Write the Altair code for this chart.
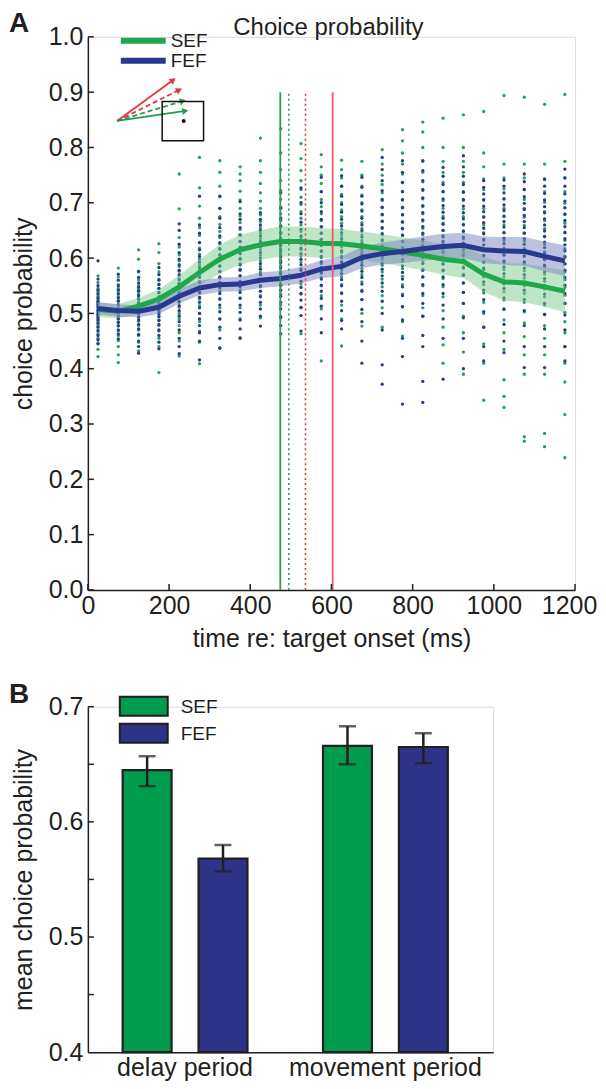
import altair as alt
import pandas as pd

# ---------------- Panel A data ----------------
BINS = [25, 75, 125, 175, 225, 275, 325, 375, 425, 475, 525, 575,
        625, 675, 725, 775, 825, 875, 925, 975, 1025, 1075, 1125, 1175]
SEF_MEAN = [0.507, 0.504, 0.513, 0.526, 0.548, 0.574, 0.598, 0.615, 0.624, 0.630, 0.630, 0.627,
            0.626, 0.622, 0.617, 0.611, 0.605, 0.598, 0.594, 0.571, 0.557, 0.555, 0.548, 0.540]
FEF_MEAN = [0.509, 0.505, 0.504, 0.511, 0.531, 0.546, 0.552, 0.553, 0.560, 0.563, 0.569, 0.580,
            0.585, 0.601, 0.608, 0.612, 0.617, 0.621, 0.623, 0.615, 0.613, 0.612, 0.603, 0.595]
SEF_SEM = [0.013, 0.013, 0.015, 0.017, 0.021, 0.024, 0.026, 0.027, 0.027, 0.027, 0.027, 0.027,
           0.026, 0.026, 0.026, 0.026, 0.027, 0.028, 0.030, 0.032, 0.034, 0.035, 0.036, 0.038]
FEF_SEM = [0.011, 0.011, 0.011, 0.012, 0.013, 0.013, 0.013, 0.013, 0.014, 0.014, 0.015, 0.016,
           0.018, 0.019, 0.020, 0.021, 0.022, 0.023, 0.023, 0.024, 0.025, 0.026, 0.027, 0.028]

SEF_DOTS = [
    [0.568, 0.556, 0.545, 0.538, 0.531, 0.526, 0.52, 0.515, 0.511, 0.505, 0.5, 0.496, 0.49, 0.485, 0.478, 0.47, 0.463, 0.455, 0.446, 0.435, 0.422],
    [0.582, 0.566, 0.552, 0.545, 0.537, 0.53, 0.523, 0.515, 0.509, 0.502, 0.497, 0.491, 0.484, 0.477, 0.469, 0.46, 0.451, 0.44, 0.425, 0.411],
    [0.615, 0.598, 0.575, 0.561, 0.55, 0.542, 0.535, 0.527, 0.52, 0.514, 0.507, 0.5, 0.493, 0.486, 0.478, 0.47, 0.46, 0.448, 0.432],
    [0.626, 0.61, 0.59, 0.575, 0.562, 0.553, 0.545, 0.537, 0.53, 0.523, 0.517, 0.51, 0.503, 0.496, 0.488, 0.478, 0.468, 0.455, 0.44, 0.393],
    [0.752, 0.689, 0.637, 0.62, 0.606, 0.595, 0.585, 0.576, 0.568, 0.56, 0.552, 0.545, 0.537, 0.53, 0.52, 0.511, 0.5, 0.49, 0.478, 0.465, 0.45, 0.423],
    [0.782, 0.727, 0.694, 0.672, 0.655, 0.641, 0.628, 0.618, 0.607, 0.598, 0.588, 0.578, 0.569, 0.558, 0.548, 0.537, 0.526, 0.514, 0.5, 0.485, 0.468, 0.448, 0.409],
    [0.776, 0.755, 0.73, 0.711, 0.69, 0.675, 0.661, 0.648, 0.637, 0.626, 0.616, 0.605, 0.595, 0.585, 0.575, 0.564, 0.553, 0.54, 0.526, 0.51, 0.49, 0.47, 0.438],
    [0.765, 0.752, 0.74, 0.721, 0.705, 0.69, 0.676, 0.664, 0.652, 0.641, 0.63, 0.62, 0.61, 0.6, 0.59, 0.58, 0.568, 0.556, 0.542, 0.528, 0.51, 0.49, 0.456],
    [0.817, 0.776, 0.755, 0.735, 0.718, 0.703, 0.69, 0.678, 0.666, 0.655, 0.645, 0.635, 0.625, 0.615, 0.605, 0.595, 0.585, 0.574, 0.562, 0.548, 0.532, 0.515, 0.492],
    [0.834, 0.79, 0.76, 0.74, 0.722, 0.706, 0.692, 0.68, 0.668, 0.657, 0.646, 0.636, 0.626, 0.616, 0.606, 0.596, 0.586, 0.575, 0.563, 0.55, 0.535, 0.515, 0.492],
    [0.807, 0.78, 0.758, 0.74, 0.724, 0.71, 0.697, 0.684, 0.672, 0.66, 0.648, 0.637, 0.626, 0.615, 0.604, 0.593, 0.581, 0.568, 0.553, 0.535, 0.51, 0.463],
    [0.787, 0.765, 0.75, 0.735, 0.72, 0.706, 0.693, 0.68, 0.668, 0.656, 0.645, 0.634, 0.623, 0.612, 0.601, 0.59, 0.578, 0.565, 0.55, 0.532, 0.508, 0.414],
    [0.777, 0.76, 0.745, 0.73, 0.715, 0.7, 0.687, 0.675, 0.663, 0.652, 0.641, 0.63, 0.62, 0.61, 0.6, 0.589, 0.578, 0.566, 0.552, 0.536, 0.515, 0.49, 0.441],
    [0.775, 0.75, 0.73, 0.714, 0.7, 0.687, 0.675, 0.664, 0.653, 0.642, 0.632, 0.622, 0.612, 0.602, 0.592, 0.581, 0.57, 0.557, 0.542, 0.525, 0.5, 0.477],
    [0.796, 0.77, 0.75, 0.733, 0.718, 0.704, 0.691, 0.678, 0.666, 0.654, 0.642, 0.631, 0.62, 0.609, 0.598, 0.587, 0.575, 0.562, 0.548, 0.532, 0.51, 0.475],
    [0.832, 0.812, 0.79, 0.77, 0.752, 0.736, 0.72, 0.706, 0.692, 0.679, 0.666, 0.654, 0.642, 0.63, 0.618, 0.606, 0.594, 0.581, 0.567, 0.552, 0.535, 0.512, 0.485, 0.459],
    [0.846, 0.828, 0.8, 0.775, 0.755, 0.738, 0.722, 0.707, 0.693, 0.68, 0.667, 0.654, 0.642, 0.63, 0.618, 0.606, 0.593, 0.58, 0.566, 0.55, 0.532, 0.51, 0.495],
    [0.853, 0.8, 0.775, 0.755, 0.737, 0.72, 0.704, 0.69, 0.676, 0.663, 0.65, 0.638, 0.626, 0.614, 0.602, 0.59, 0.577, 0.563, 0.548, 0.53, 0.505, 0.475, 0.443, 0.41],
    [0.859, 0.8, 0.775, 0.755, 0.737, 0.72, 0.704, 0.689, 0.675, 0.661, 0.648, 0.635, 0.622, 0.61, 0.597, 0.584, 0.57, 0.555, 0.538, 0.518, 0.495, 0.465, 0.43, 0.39],
    [0.865, 0.79, 0.765, 0.743, 0.724, 0.706, 0.69, 0.675, 0.66, 0.646, 0.632, 0.618, 0.605, 0.592, 0.579, 0.566, 0.552, 0.537, 0.52, 0.5, 0.475, 0.445, 0.41, 0.343],
    [0.894, 0.77, 0.745, 0.725, 0.707, 0.69, 0.675, 0.66, 0.646, 0.632, 0.618, 0.605, 0.592, 0.579, 0.566, 0.553, 0.539, 0.524, 0.507, 0.488, 0.465, 0.435, 0.38, 0.35, 0.33],
    [0.891, 0.77, 0.745, 0.724, 0.706, 0.69, 0.674, 0.659, 0.645, 0.631, 0.617, 0.603, 0.59, 0.577, 0.564, 0.55, 0.536, 0.52, 0.503, 0.483, 0.458, 0.425, 0.39, 0.277, 0.269],
    [0.878, 0.77, 0.742, 0.72, 0.701, 0.684, 0.668, 0.653, 0.639, 0.625, 0.611, 0.597, 0.584, 0.571, 0.558, 0.544, 0.53, 0.515, 0.498, 0.478, 0.455, 0.425, 0.39, 0.283, 0.259],
    [0.896, 0.775, 0.745, 0.72, 0.699, 0.68, 0.663, 0.647, 0.632, 0.617, 0.603, 0.589, 0.575, 0.561, 0.547, 0.533, 0.518, 0.502, 0.485, 0.465, 0.44, 0.41, 0.376, 0.317, 0.239],
]
FEF_DOTS = [
    [0.595, 0.562, 0.55, 0.542, 0.535, 0.528, 0.522, 0.517, 0.512, 0.507, 0.503, 0.498, 0.493, 0.488, 0.482, 0.475, 0.468, 0.46, 0.452, 0.445],
    [0.571, 0.56, 0.55, 0.542, 0.535, 0.528, 0.522, 0.516, 0.51, 0.505, 0.5, 0.495, 0.49, 0.484, 0.478, 0.47, 0.463, 0.454],
    [0.576, 0.565, 0.555, 0.547, 0.54, 0.532, 0.525, 0.518, 0.512, 0.506, 0.5, 0.494, 0.488, 0.48, 0.472, 0.462, 0.45, 0.44, 0.428],
    [0.583, 0.57, 0.56, 0.552, 0.545, 0.538, 0.53, 0.524, 0.518, 0.512, 0.506, 0.5, 0.494, 0.487, 0.48, 0.47, 0.46, 0.448, 0.436],
    [0.662, 0.65, 0.625, 0.61, 0.598, 0.588, 0.578, 0.57, 0.562, 0.554, 0.546, 0.538, 0.53, 0.522, 0.514, 0.505, 0.495, 0.485, 0.47, 0.455, 0.44, 0.427],
    [0.712, 0.66, 0.645, 0.628, 0.615, 0.603, 0.593, 0.583, 0.574, 0.565, 0.556, 0.547, 0.538, 0.529, 0.52, 0.51, 0.5, 0.49, 0.478, 0.465, 0.45, 0.416],
    [0.712, 0.69, 0.672, 0.655, 0.64, 0.628, 0.617, 0.606, 0.596, 0.586, 0.576, 0.566, 0.556, 0.546, 0.536, 0.526, 0.515, 0.503, 0.49, 0.475, 0.455, 0.437],
    [0.702, 0.68, 0.67, 0.655, 0.642, 0.63, 0.619, 0.608, 0.598, 0.588, 0.578, 0.568, 0.558, 0.548, 0.538, 0.527, 0.515, 0.502, 0.488, 0.472, 0.455],
    [0.682, 0.67, 0.66, 0.65, 0.64, 0.63, 0.62, 0.61, 0.6, 0.59, 0.58, 0.57, 0.56, 0.55, 0.54, 0.53, 0.52, 0.508, 0.495, 0.477],
    [0.718, 0.69, 0.672, 0.658, 0.645, 0.634, 0.623, 0.612, 0.602, 0.592, 0.582, 0.572, 0.562, 0.552, 0.542, 0.531, 0.52, 0.508, 0.494, 0.478, 0.463],
    [0.727, 0.7, 0.68, 0.665, 0.652, 0.64, 0.629, 0.618, 0.608, 0.598, 0.588, 0.578, 0.568, 0.558, 0.547, 0.536, 0.524, 0.511, 0.496, 0.468],
    [0.746, 0.72, 0.7, 0.684, 0.67, 0.657, 0.645, 0.634, 0.623, 0.613, 0.603, 0.593, 0.583, 0.573, 0.562, 0.551, 0.54, 0.527, 0.513, 0.49, 0.465],
    [0.749, 0.73, 0.712, 0.697, 0.683, 0.67, 0.658, 0.646, 0.635, 0.624, 0.613, 0.603, 0.593, 0.583, 0.572, 0.561, 0.55, 0.537, 0.522, 0.505, 0.487, 0.472],
    [0.746, 0.728, 0.712, 0.698, 0.685, 0.672, 0.66, 0.649, 0.638, 0.627, 0.617, 0.607, 0.597, 0.587, 0.576, 0.565, 0.553, 0.54, 0.525, 0.507, 0.485, 0.45, 0.41],
    [0.782, 0.76, 0.74, 0.722, 0.706, 0.692, 0.679, 0.667, 0.655, 0.644, 0.633, 0.622, 0.612, 0.602, 0.591, 0.58, 0.568, 0.555, 0.54, 0.522, 0.5, 0.47, 0.407, 0.372],
    [0.776, 0.755, 0.737, 0.72, 0.705, 0.691, 0.678, 0.665, 0.653, 0.641, 0.63, 0.619, 0.608, 0.597, 0.586, 0.574, 0.562, 0.548, 0.532, 0.512, 0.488, 0.455, 0.422, 0.336],
    [0.776, 0.758, 0.74, 0.724, 0.709, 0.695, 0.682, 0.669, 0.657, 0.645, 0.634, 0.623, 0.612, 0.601, 0.59, 0.578, 0.566, 0.552, 0.536, 0.518, 0.495, 0.46, 0.44, 0.377, 0.339],
    [0.764, 0.748, 0.733, 0.72, 0.707, 0.695, 0.683, 0.672, 0.661, 0.65, 0.64, 0.63, 0.62, 0.61, 0.6, 0.589, 0.578, 0.566, 0.552, 0.536, 0.515, 0.49, 0.455, 0.381],
    [0.785, 0.765, 0.748, 0.733, 0.719, 0.706, 0.694, 0.682, 0.671, 0.66, 0.649, 0.638, 0.627, 0.616, 0.605, 0.594, 0.582, 0.569, 0.555, 0.538, 0.518, 0.492, 0.455, 0.4],
    [0.74, 0.728, 0.716, 0.705, 0.694, 0.684, 0.674, 0.664, 0.654, 0.644, 0.634, 0.624, 0.614, 0.604, 0.593, 0.582, 0.57, 0.557, 0.542, 0.525, 0.503, 0.475, 0.44, 0.414],
    [0.741, 0.73, 0.718, 0.707, 0.696, 0.686, 0.676, 0.666, 0.656, 0.646, 0.636, 0.626, 0.616, 0.606, 0.595, 0.584, 0.572, 0.559, 0.545, 0.528, 0.508, 0.48, 0.45, 0.429],
    [0.752, 0.738, 0.724, 0.711, 0.699, 0.688, 0.677, 0.666, 0.655, 0.645, 0.635, 0.625, 0.615, 0.604, 0.593, 0.582, 0.57, 0.557, 0.542, 0.525, 0.505, 0.478, 0.44, 0.402],
    [0.743, 0.73, 0.717, 0.705, 0.693, 0.682, 0.671, 0.66, 0.649, 0.639, 0.629, 0.619, 0.609, 0.598, 0.587, 0.575, 0.563, 0.55, 0.535, 0.518, 0.498, 0.472, 0.44, 0.402],
    [0.761, 0.745, 0.73, 0.716, 0.703, 0.691, 0.679, 0.668, 0.657, 0.646, 0.635, 0.624, 0.613, 0.602, 0.59, 0.578, 0.565, 0.551, 0.536, 0.518, 0.497, 0.47, 0.44, 0.414],
]

# event markers (ms)
VLINE_T = [474, 603]
VLINE_COLORS = ["#2f9a5c", "#e06262"]
VLINE_DOT_T = [495, 536]
VLINE_DOT_COLORS = ["#2f9a5c", "#e0393e"]
VLINE_TOP = 0.9

# inset icon (in data units)
ARROW_T0 = 72
ARROW_P0 = 0.848
ARROW_T1 = [210, 225, 234, 240]
ARROW_P1 = [0.922, 0.904, 0.884, 0.866]
ARROW_COLORS = ["#e0393e", "#e0393e", "#1fa050", "#1fa050"]
ARROW_DASHED = [False, True, True, False]
ARROW_ANGLE = [324, 333.6, 343, 351.7]
BOX_T = [183, 285]
BOX_P = [0.812, 0.883]
FIX_T = 236
FIX_P = 0.848

X_TICKS_A = [0, 200, 400, 600, 800, 1000, 1200]
Y_TICKS_A = [0.0, 0.1, 0.2, 0.3, 0.4, 0.5, 0.6, 0.7, 0.8, 0.9, 1.0]

# ---------------- Panel B data ----------------
PERIODS = ["delay period", "movement period"]
AREAS = ["SEF", "FEF"]
B_PERIOD = ["delay period", "delay period", "movement period", "movement period"]
B_AREA = ["SEF", "FEF", "SEF", "FEF"]
B_MEAN = [0.645, 0.568, 0.666, 0.665]
B_LO = [0.631, 0.557, 0.650, 0.651]
B_HI = [0.657, 0.580, 0.683, 0.677]
Y_TICKS_B = [0.45, 0.5, 0.55, 0.6, 0.65, 0.7]
Y_LABELS_B = [0.4, 0.5, 0.6, 0.7]

# ---------------- styles ----------------
DARK = "#231f20"
GREEN_LINE = "#1fa84b"
BLUE_LINE = "#2a3990"
GREEN_BAND = "#7fcc8f"
BLUE_BAND = "#7c83c0"
GREEN_DOT = "#22a45a"
BLUE_DOT = "#2d3b8e"
GREEN_BAR = "#009b4f"
BLUE_BAR = "#2e3388"
FONT = "Liberation Sans"
LABEL_FS = 25
TITLE_FS = 25

WA, HA = 488, 554
WB, HB = 406, 346

# ---------------- Panel A ----------------
xsA = alt.Scale(domain=[0, 1200], nice=False, zero=False)
ysA = alt.Scale(domain=[0, 1], nice=False, zero=False)
axXA = alt.Axis(values=X_TICKS_A, format="d", ticks=False, grid=False, labelFlush=False,
                labelOverlap=False, labelFontSize=LABEL_FS, labelPadding=4, labelColor=DARK,
                labelOffset={"condition": {"test": "datum.value === 1200", "value": -6}, "value": 0},
                domainColor=DARK, domainWidth=1.5, title="time re: target onset (ms)",
                titleFontSize=TITLE_FS, titleFontWeight="normal", titleColor=DARK, titlePadding=8)
axYA = alt.Axis(values=Y_TICKS_A, format=".1f", ticks=False, grid=False, labelFontSize=LABEL_FS,
                labelPadding=5, labelColor=DARK, domainColor=DARK, domainWidth=1.5,
                title="choice probability", titleFontSize=TITLE_FS, titleFontWeight="normal",
                titleColor=DARK, titlePadding=12)


def XA(field):
    return alt.X(field, type="quantitative", scale=xsA, axis=axXA)


def YA(field):
    return alt.Y(field, type="quantitative", scale=ysA, axis=axYA)


dot_rows = []
for area, dots in (("SEF", SEF_DOTS), ("FEF", FEF_DOTS)):
    for t, vals in zip(BINS, dots):
        for v in vals:
            dot_rows.append({"t": t, "p": v, "area": area})
dots_df = pd.DataFrame(dot_rows)

layersA = []
for area, col in (("SEF", GREEN_DOT), ("FEF", BLUE_DOT)):
    layersA.append(
        alt.Chart(dots_df[dots_df.area == area]).mark_circle(size=11, opacity=1, color=col)
        .encode(x=XA("t"), y=YA("p"))
    )

for mean, sem, col in ((SEF_MEAN, SEF_SEM, GREEN_BAND), (FEF_MEAN, FEF_SEM, BLUE_BAND)):
    bdf = pd.DataFrame({"t": BINS, "lo": [m - s for m, s in zip(mean, sem)],
                        "hi": [m + s for m, s in zip(mean, sem)]})
    layersA.append(alt.Chart(bdf).mark_area(color=col, opacity=0.5)
                   .encode(x=XA("t"), y=YA("lo"), y2="hi"))

for mean, col in ((SEF_MEAN, GREEN_LINE), (FEF_MEAN, BLUE_LINE)):
    ldf = pd.DataFrame({"t": BINS, "p": mean})
    layersA.append(alt.Chart(ldf).mark_line(color=col, strokeWidth=5, strokeJoin="round")
                   .encode(x=XA("t"), y=YA("p")))

vdf = pd.DataFrame({"t": VLINE_T, "p0": [0, 0], "p1": [VLINE_TOP] * 2, "c": VLINE_COLORS})
layersA.append(alt.Chart(vdf).mark_rule(strokeWidth=1.8)
               .encode(x=XA("t"), y=YA("p0"), y2="p1", color=alt.Color("c:N", scale=None)))
vddf = pd.DataFrame({"t": VLINE_DOT_T, "p0": [0, 0], "p1": [VLINE_TOP] * 2, "c": VLINE_DOT_COLORS})
layersA.append(alt.Chart(vddf).mark_rule(strokeWidth=1.6, strokeDash=[2, 3])
               .encode(x=XA("t"), y=YA("p0"), y2="p1", color=alt.Color("c:N", scale=None)))

# inset icon
adf = pd.DataFrame({"t0": [ARROW_T0] * 4, "p0": [ARROW_P0] * 4, "t": ARROW_T1, "p": ARROW_P1,
                    "c": ARROW_COLORS, "dash": ARROW_DASHED, "ang": ARROW_ANGLE})
layersA.append(alt.Chart(adf[~adf.dash]).mark_rule(strokeWidth=1.8)
               .encode(x=XA("t0"), y=YA("p0"), x2="t", y2="p", color=alt.Color("c:N", scale=None)))
layersA.append(alt.Chart(adf[adf.dash]).mark_rule(strokeWidth=1.8, strokeDash=[5, 3])
               .encode(x=XA("t0"), y=YA("p0"), x2="t", y2="p", color=alt.Color("c:N", scale=None)))
layersA.append(alt.Chart(adf).mark_point(shape="triangle-right", filled=True, size=50, opacity=1)
               .encode(x=XA("t"), y=YA("p"), angle=alt.Angle("ang:Q", scale=None),
                       color=alt.Color("c:N", scale=None)))
boxdf = pd.DataFrame({"t0": [BOX_T[0]], "t1": [BOX_T[1]], "p0": [BOX_P[0]], "p1": [BOX_P[1]]})
layersA.append(alt.Chart(boxdf).mark_rect(fillOpacity=0, stroke="#111", strokeWidth=1.5)
               .encode(x=XA("t0"), x2="t1", y=YA("p0"), y2="p1"))
fixdf = pd.DataFrame({"t": [FIX_T], "p": [FIX_P]})
layersA.append(alt.Chart(fixdf).mark_circle(size=16, color="#111", opacity=1)
               .encode(x=XA("t"), y=YA("p")))

# inward ticks
layersA.append(alt.Chart(pd.DataFrame({"p": Y_TICKS_A})).mark_rule(color=DARK, strokeWidth=1.5)
               .encode(y=YA("p"), x=alt.value(0), x2=alt.value(6)))
layersA.append(alt.Chart(pd.DataFrame({"t": X_TICKS_A})).mark_rule(color=DARK, strokeWidth=1.5)
               .encode(x=XA("t"), y=alt.value(HA), y2=alt.value(HA - 6)))

# legend A
for i, (lab, col) in enumerate((("SEF", GREEN_LINE), ("FEF", BLUE_LINE))):
    ld = pd.DataFrame({"label": [lab]})
    layersA.append(alt.Chart(ld).mark_rule(color=col, strokeWidth=6)
                   .encode(x=alt.value(33), x2=alt.value(78), y=alt.value(4 + 20 * i)))
    layersA.append(alt.Chart(ld).mark_text(font=FONT, fontSize=19, color=DARK, align="left",
                                           baseline="middle")
                   .encode(x=alt.value(83), y=alt.value(4 + 20 * i), text="label:N"))

# title & panel letter
layersA.append(alt.Chart(pd.DataFrame({"label": ["Choice probability"]}))
               .mark_text(font=FONT, fontSize=24, color=DARK, align="center", baseline="alphabetic")
               .encode(x=alt.value(241), y=alt.value(-2), text="label:N"))
layersA.append(alt.Chart(pd.DataFrame({"label": ["A"]}))
               .mark_text(font=FONT, fontSize=28, fontWeight="bold", color=DARK, align="left",
                          baseline="top")
               .encode(x=alt.value(-79), y=alt.value(-27), text="label:N"))

panelA = alt.layer(*layersA).properties(width=WA, height=HA)

# ---------------- Panel B ----------------
bdf = pd.DataFrame({"period": B_PERIOD, "area": B_AREA, "v": B_MEAN, "lo": B_LO, "hi": B_HI})
ysB = alt.Scale(domain=[0.4, 0.7], nice=False, zero=False)
axYB = alt.Axis(values=Y_LABELS_B, format=".1f", ticks=False, grid=False, labelFontSize=LABEL_FS,
                labelPadding=5, labelColor=DARK, domainColor=DARK, domainWidth=1.5,
                title="mean choice probability", titleFontSize=TITLE_FS, titleFontWeight="normal",
                titleColor=DARK, titlePadding=12)
xB = alt.X("period:N", sort=PERIODS,
           scale=alt.Scale(paddingInner=0.377, paddingOuter=0.2, align=0.434),
           axis=alt.Axis(title=None, labelAngle=0, ticks=False, labelFontSize=LABEL_FS, labelPadding=3,
                         labelLimit=400, labelColor=DARK, domainColor=DARK, domainWidth=1.5,
                         grid=False))
xoB = alt.XOffset("area:N", sort=AREAS, scale=alt.Scale(paddingInner=0.355, paddingOuter=0))


def YB(field):
    return alt.Y(field, type="quantitative", scale=ysB, axis=axYB)


bars = alt.Chart(bdf).mark_bar(stroke=DARK, strokeWidth=2.2).encode(
    x=xB, xOffset=xoB, y=YB("v"), y2=alt.datum(0.4),
    color=alt.Color("area:N", scale=alt.Scale(domain=AREAS, range=[GREEN_BAR, BLUE_BAR]), legend=None))
err = alt.Chart(bdf).mark_rule(color=DARK, strokeWidth=2.5).encode(
    x=xB, xOffset=xoB, y=YB("lo"), y2="hi")
cap_lo = alt.Chart(bdf).mark_tick(color=DARK, thickness=2.5, size=17).encode(
    x=xB, xOffset=xoB, y=YB("lo"))
cap_hi = alt.Chart(bdf).mark_tick(color=DARK, thickness=2.5, size=17).encode(
    x=xB, xOffset=xoB, y=YB("hi"))
ticksB = alt.Chart(pd.DataFrame({"v": Y_TICKS_B})).mark_rule(color=DARK, strokeWidth=1.5).encode(
    y=YB("v"), x=alt.value(0), x2=alt.value(6))

layersB = [bars, err, cap_lo, cap_hi, ticksB]
for i, (lab, col) in enumerate((("SEF", GREEN_BAR), ("FEF", BLUE_BAR))):
    ld = pd.DataFrame({"label": [lab]})
    y0 = -10 + 27 * i
    layersB.append(alt.Chart(ld).mark_rect(color=col, stroke=DARK, strokeWidth=2)
                   .encode(x=alt.value(32), x2=alt.value(80), y=alt.value(y0), y2=alt.value(y0 + 19)))
    layersB.append(alt.Chart(ld).mark_text(font=FONT, fontSize=19, color=DARK, align="left",
                                           baseline="middle")
                   .encode(x=alt.value(93), y=alt.value(y0 + 10), text="label:N"))
layersB.append(alt.Chart(pd.DataFrame({"label": ["B"]}))
               .mark_text(font=FONT, fontSize=28, fontWeight="bold", color=DARK, align="left",
                          baseline="top")
               .encode(x=alt.value(-79), y=alt.value(-26), text="label:N"))

panelB = alt.layer(*layersB).properties(width=WB, height=HB)

chart = (
    alt.vconcat(panelA, panelB, spacing=117, bounds="flush")
    .properties(padding=0)
    .configure_view(stroke=None)
    .configure(font=FONT)
)

chart.save("out.html", embed_options={"renderer": "svg", "actions": False})
